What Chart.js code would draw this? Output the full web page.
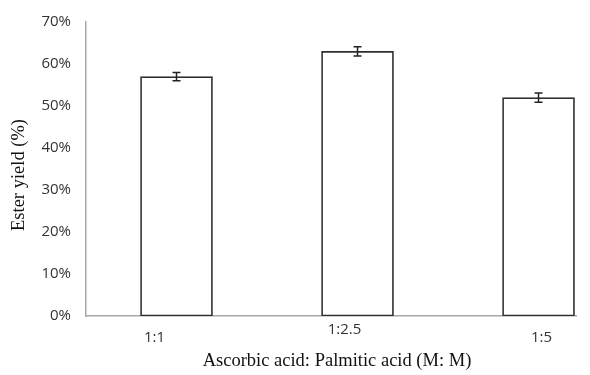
<!DOCTYPE html>
<html>
<head>
<meta charset="utf-8">
<script src="https://cdn.jsdelivr.net/npm/chart.js@4"></script>
<style>
  html, body { margin: 0; padding: 0; background: #fff; }
  #wrap { width: 590px; height: 375px; position: relative; }
</style>
</head>
<body>
<div id="wrap"><canvas id="barChart"></canvas></div>
<script>
// data
var ratios = ['1:1', '1:2.5', '1:5'];
var esterYield = [57, 63, 52];
var yieldError = [1.0, 1.1, 1.1];
var yTicks = [0, 10, 20, 30, 40, 50, 60, 70];

// label nudges (px), as in the original figure
var labelDx = [-22, -13, 3];
var labelDy = [22, 14, 22];

var tickFont = { family: 'Open Sans', size: 15 };
var titleFont = '18.5px "Liberation Serif"';

var points = esterYield.map(function (v, i) { return { x: i, y: v }; });

var errorBars = {
    id: 'errorBars',
    afterDatasetsDraw: function (chart) {
        var ctx = chart.ctx;
        var xs = chart.scales.x, ys = chart.scales.y;
        ctx.save();
        ctx.strokeStyle = '#222';
        ctx.lineWidth = 1.5;
        for (var i = 0; i < esterYield.length; i++) {
            var px = xs.getPixelForValue(i);
            var top = ys.getPixelForValue(esterYield[i] + yieldError[i]);
            var bot = ys.getPixelForValue(esterYield[i] - yieldError[i]);
            ctx.beginPath();
            ctx.moveTo(px, top); ctx.lineTo(px, bot);
            ctx.moveTo(px - 4, top); ctx.lineTo(px + 4, top);
            ctx.moveTo(px - 4, bot); ctx.lineTo(px + 4, bot);
            ctx.stroke();
        }
        ctx.restore();
    }
};

var labelsAndTitles = {
    id: 'labelsAndTitles',
    afterDraw: function (chart) {
        var ctx = chart.ctx;
        var xs = chart.scales.x, area = chart.chartArea;
        ctx.save();
        ctx.fillStyle = '#333';
        ctx.font = '15px "Open Sans"';
        ctx.textAlign = 'center';
        ctx.textBaseline = 'middle';
        for (var i = 0; i < ratios.length; i++) {
            ctx.fillText(ratios[i], xs.getPixelForValue(i) + labelDx[i], area.bottom + labelDy[i]);
        }
        ctx.fillStyle = '#111';
        ctx.font = titleFont;
        ctx.fillText('Ascorbic acid: Palmitic acid (M: M)', 337, 361);
        ctx.translate(19, 175);
        ctx.rotate(-Math.PI / 2);
        ctx.fillText('Ester yield (%)', 0, 0);
        ctx.restore();
    }
};

var ctxB = document.getElementById('barChart').getContext('2d');
var myBarChart = new Chart(ctxB, {
    type: 'bar',
    data: {
        datasets: [{
            data: points,
            backgroundColor: '#ffffff',
            borderColor: '#2e2e2e',
            borderWidth: 1.7,
            borderSkipped: false,
            barThickness: 72
        }]
    },
    options: {
        responsive: true,
        maintainAspectRatio: false,
        animation: false,
        layout: { padding: { top: 22, right: 14, left: 0, bottom: 0 } },
        plugins: { legend: { display: false }, tooltip: { enabled: false } },
        scales: {
            x: {
                type: 'linear',
                offset: false,
                min: -0.5,
                max: 2.207,
                grid: { display: false, drawTicks: false },
                border: { color: '#a8a8a8', width: 1.5 },
                ticks: { display: false },
                afterFit: function (scale) { scale.height = 59; }
            },
            y: {
                min: 0,
                max: 70,
                afterBuildTicks: function (scale) {
                    scale.ticks = yTicks.map(function (v) { return { value: v }; });
                },
                grid: { display: false, drawTicks: true, tickLength: 6, tickColor: '#a8a8a8' },
                border: { color: '#a8a8a8', width: 1.5 },
                ticks: {
                    color: '#333',
                    font: tickFont,
                    padding: 9,
                    callback: function (v) { return v + '%'; }
                },
                afterFit: function (scale) { scale.width = 86; }
            }
        }
    },
    plugins: [errorBars, labelsAndTitles]
});
</script>
</body>
</html>
